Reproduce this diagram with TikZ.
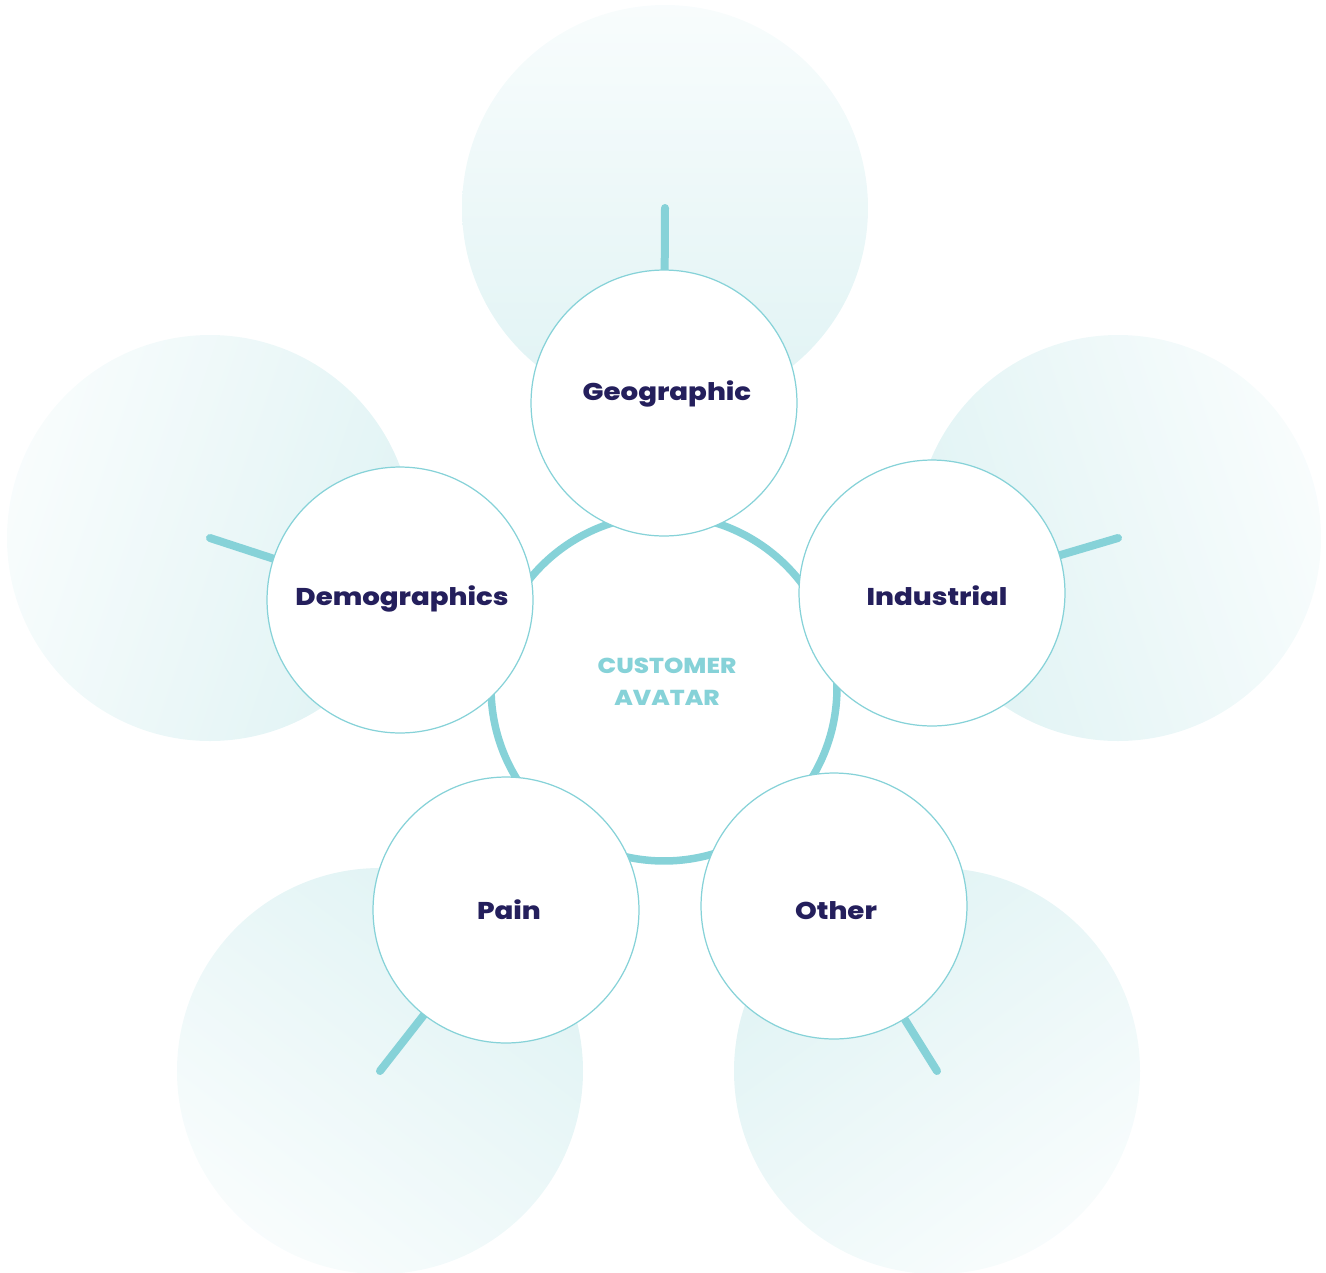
\documentclass[tikz,border=0pt]{standalone}
\usepackage{fontspec}
\setmainfont{Poppins}
\newfontfamily\labelfont{Poppins ExtraBold}[FakeStretch=1.14]
\usetikzlibrary{backgrounds,calc}

\definecolor{ringteal}{HTML}{86D2D8}
\definecolor{navy}{HTML}{241F5C}
\definecolor{haze}{HTML}{E0F3F4}

\tikzset{
  segment/.style={circle, draw=ringteal, line width=0.7pt, fill=white,
    minimum size=5.32cm, inner sep=0pt},
  tag/.style={anchor=base, inner sep=0pt, text=navy,
    font=\labelfont\fontsize{13.8}{16}\selectfont},
  core/.style={circle, draw=ringteal, line width=0.15cm, fill=white,
    minimum size=6.92cm, inner sep=0pt},
  spoke/.style={ringteal, line width=0.16cm, line cap=round},
  halo/.style={top color=haze!22, bottom color=haze}
}

\begin{document}
\begin{tikzpicture}[x=0.02cm, y=-0.02cm]
    \useasboundingbox (0,0) rectangle (1326,1272);

    % centre ring
    \node[core] (avatar) at (664,688) {};
    \node[inner sep=0pt, align=center, text=ringteal,
          font=\labelfont\fontsize{12.3}{18.2}\selectfont]
          (avatartext) at (667,682) {CUSTOMER\\AVATAR};

    % the five segments
    \node[segment] (geo)  at (664,403) {};
    \node[segment] (ind)  at (932,593) {};
    \node[segment] (oth)  at (834,906) {};
    \node[segment] (pain) at (506,910) {};
    \node[segment] (demo) at (400,600) {};

    % labels, set on their baselines
    \node[tag] (geotext)  at ($(geo)+(3,-3)$)   {Geographic};
    \node[tag] (indtext)  at ($(ind)+(5,12)$)   {Industrial};
    \node[tag] (othtext)  at ($(oth)+(2,13)$)   {Other};
    \node[tag] (paintext) at ($(pain)+(3,9)$)   {Pain};
    \node[tag] (demotext) at ($(demo)+(2,5)$)   {Demographics};

    % halos behind each segment
    \coordinate (hgeo)  at (665,208);
    \coordinate (hind)  at (1118,538);
    \coordinate (hoth)  at (937,1071);
    \coordinate (hpain) at (380,1071);
    \coordinate (hdemo) at (210,538);

    \begin{scope}[on background layer]
    \shade[halo, shading angle=0]      (hgeo)  circle[radius=203];
    \shade[halo, shading angle=-71.5]  (hind)  circle[radius=203];
    \shade[halo, shading angle=-144.4] (hoth)  circle[radius=203];
    \shade[halo, shading angle=143]    (hpain) circle[radius=203];
    \shade[halo, shading angle=71.5]   (hdemo) circle[radius=203];

    % spokes
    \draw[spoke] (hgeo)  -- (geo);
    \draw[spoke] (hind)  -- (ind);
    \draw[spoke] (hoth)  -- (oth);
    \draw[spoke] (hpain) -- (pain);
    \draw[spoke] (hdemo) -- (demo);
    \end{scope}
\end{tikzpicture}
\end{document}
